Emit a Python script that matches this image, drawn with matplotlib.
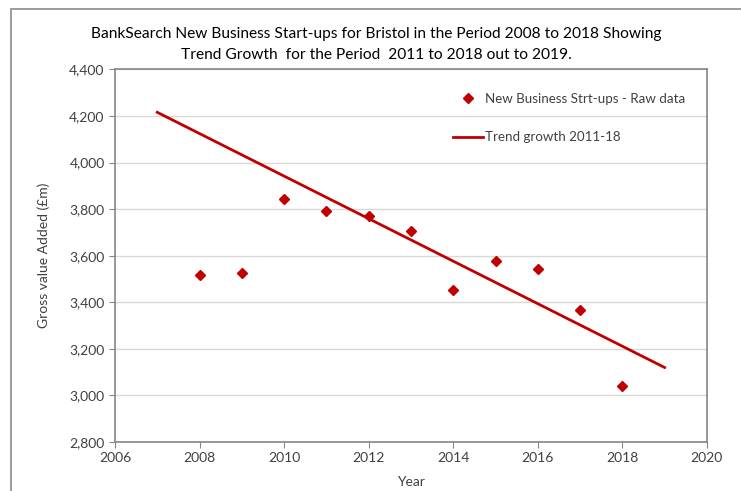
import matplotlib.pyplot as plt
import matplotlib.patches as patches
from matplotlib.ticker import FuncFormatter

# raw data
years = [2008, 2009, 2010, 2011, 2012, 2013, 2014, 2015, 2016, 2017, 2018]
startups = [3517, 3528, 3845, 3794, 3771, 3708, 3452, 3578, 3541, 3369, 3042]

# trend line end points (2011-18 fit, drawn from 2007 out to 2019)
trend_years = [2007, 2019]
trend_values = [4216, 3120]

x_ticks = [2006, 2008, 2010, 2012, 2014, 2016, 2018, 2020]
y_ticks = [2800, 3000, 3200, 3400, 3600, 3800, 4000, 4200, 4400]

red = '#c00000'
txt = '#404040'

plt.rcParams['font.family'] = ['Lato', 'DejaVu Sans']

fig = plt.figure(figsize=(7.41, 4.91), dpi=100)
ax = fig.add_axes([0.1552, 0.0998, 0.954 - 0.1552, 0.8585 - 0.0998])

# outer chart frame
fig.patches.append(patches.Rectangle((11/741, -0.1), 1.1, 1 - 9/491 + 0.1, transform=fig.transFigure,
	fill=False, ec='#8c8c8c', lw=1.2))

ax.plot(years, startups, 'D', color=red, markersize=5, label='New Business Strt-ups - Raw data')
ax.plot(trend_years, trend_values, '-', color=red, lw=2, label='Trend growth 2011-18')

ax.set_xlim(2006, 2020)
ax.set_ylim(2800, 4400)
ax.set_xticks(x_ticks)
ax.set_yticks(y_ticks)
ax.yaxis.set_major_formatter(FuncFormatter(lambda v, p: '{:,.0f}'.format(v)))
ax.grid(axis='y', color='#d9d9d9', lw=1)
ax.set_axisbelow(True)

for s in ax.spines.values():
	s.set_color('#868686')
	s.set_linewidth(1.2)
ax.tick_params(colors='#868686', labelcolor=txt, labelsize=10, direction='out', length=4)

ax.set_xlabel('Year', fontsize=10, color=txt, labelpad=8)
ax.set_ylabel('Gross value Added (£m)', fontsize=10, color=txt, labelpad=14)

fig.text(0.508, 0.909, 'BankSearch New Business Start-ups for Bristol in the Period 2008 to 2018 Showing\n'
	'Trend Growth  for the Period  2011 to 2018 out to 2019.', ha='center', va='center',
	fontsize=11.2, color='#000000', linespacing=1.65)

ax.legend(loc='upper left', bbox_to_anchor=(0.55, 0.97), frameon=False, fontsize=9.6,
	labelspacing=2.0, handlelength=2.3, handletextpad=0.1, labelcolor=txt)

fig.savefig('out.png', dpi=100)
